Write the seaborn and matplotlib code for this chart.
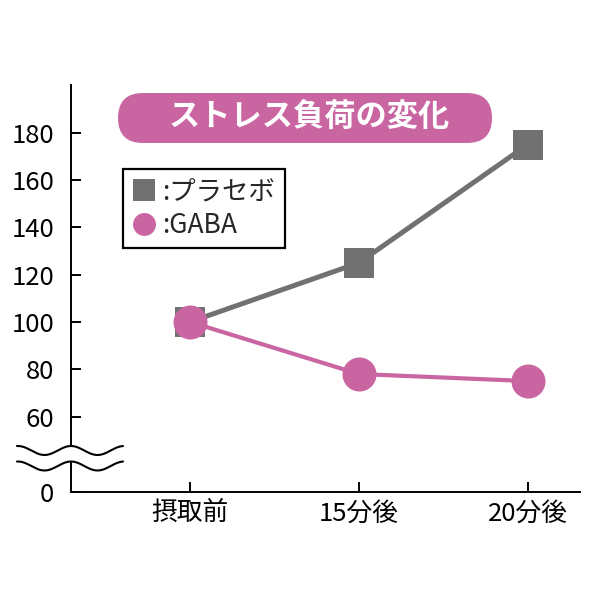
import numpy as np
import pandas as pd
import seaborn as sns
import matplotlib.pyplot as plt
from matplotlib.lines import Line2D
from matplotlib.patches import FancyBboxPatch

# data
timepoints = ["摂取前", "15分後", "20分後"]
placebo = [100, 125, 175]
gaba = [100, 78, 75]
series_names = ["プラセボ", "GABA"]
ytick_values = [60, 80, 100, 120, 140, 160, 180]
title = "ストレス負荷の変化"

GRAY = "#717171"
PINK = "#c966a2"
FS = 18.5

sns.set_theme(style="white")
plt.rcParams["font.family"] = ["Noto Sans CJK JP", "DejaVu Sans"]

df = pd.DataFrame({
    "time": timepoints * 2,
    "value": placebo + gaba,
    "group": [series_names[0]] * 3 + [series_names[1]] * 3,
})

fig = plt.figure(figsize=(6, 6), dpi=100)
ax = fig.add_axes([71 / 600, 108 / 600, 509 / 600, 407 / 600])

sns.lineplot(data=df[df["group"] == series_names[0]], x="time", y="value",
             color=GRAY, lw=3.6, marker="s", markersize=21,
             markeredgewidth=0, sort=False, ax=ax)
sns.lineplot(data=df[df["group"] == series_names[1]], x="time", y="value",
             color=PINK, lw=3.0, marker="o", markersize=24.5,
             markeredgewidth=0, sort=False, ax=ax)

# broken axis: bottom of the axis stands for 0
ybottom, ytop = 28.1, 200.2
ax.set_ylim(ybottom, ytop)
ax.set_xlim(-0.705, 2.31)
ax.set_yticks([ybottom] + ytick_values)
ax.set_yticklabels(["0"] + [str(v) for v in ytick_values])
ax.set_xlabel("")
ax.set_ylabel("")

for side in ["top", "right"]:
    ax.spines[side].set_visible(False)
for side in ["left", "bottom"]:
    ax.spines[side].set_color("black")
    ax.spines[side].set_linewidth(1.4)
ax.tick_params(axis="both", direction="in", length=7.5, width=1.4,
               color="black", labelsize=FS, labelcolor="black")
ax.tick_params(axis="y", pad=12)
ax.tick_params(axis="x", pad=6)
ax.tick_params(left=True, bottom=True)

# overlay in pixel coordinates for the decorations
ov = fig.add_axes([0, 0, 1, 1], zorder=5)
ov.set_xlim(0, 600)
ov.set_ylim(0, 600)
ov.axis("off")
ov.patch.set_alpha(0)

# wavy break marks
xs = np.linspace(17, 123, 200)
wave = 4.5 * np.cos(2 * np.pi * (xs - 71) / 53)
y_up, y_dn = 600 - 450.5, 600 - 466
ov.fill_between(xs, y_dn + wave, y_up + wave, color="white", lw=0)
ov.plot(xs, y_up + wave, color="black", lw=1.5)
ov.plot(xs, y_dn + wave, color="black", lw=1.5)

# title pill
pill = FancyBboxPatch((118, 600 - 143), 374, 50,
                      boxstyle="round,pad=0,rounding_size=25",
                      facecolor=PINK, edgecolor="none")
ov.add_patch(pill)
ov.text(309, 600 - 118, title, color="white", fontsize=22.5,
        fontweight="bold", ha="center", va="center")

# legend
handles = [
    Line2D([], [], color=GRAY, marker="s", ls="none", markersize=15.5,
           markeredgewidth=0),
    Line2D([], [], color=PINK, marker="o", ls="none", markersize=16.5,
           markeredgewidth=0),
]
leg = fig.legend(handles, [":" + n for n in series_names],
                 loc="upper left", bbox_to_anchor=(123 / 600, 1 - 169 / 600),
                 frameon=True, fancybox=False, edgecolor="black",
                 framealpha=1, borderaxespad=0, fontsize=19,
                 handlelength=0.9, handletextpad=0.25, borderpad=0.35,
                 labelspacing=0.25)
leg.get_frame().set_linewidth(1.6)
leg.set_zorder(6)

fig.savefig("out.png", dpi=100, facecolor="white")
